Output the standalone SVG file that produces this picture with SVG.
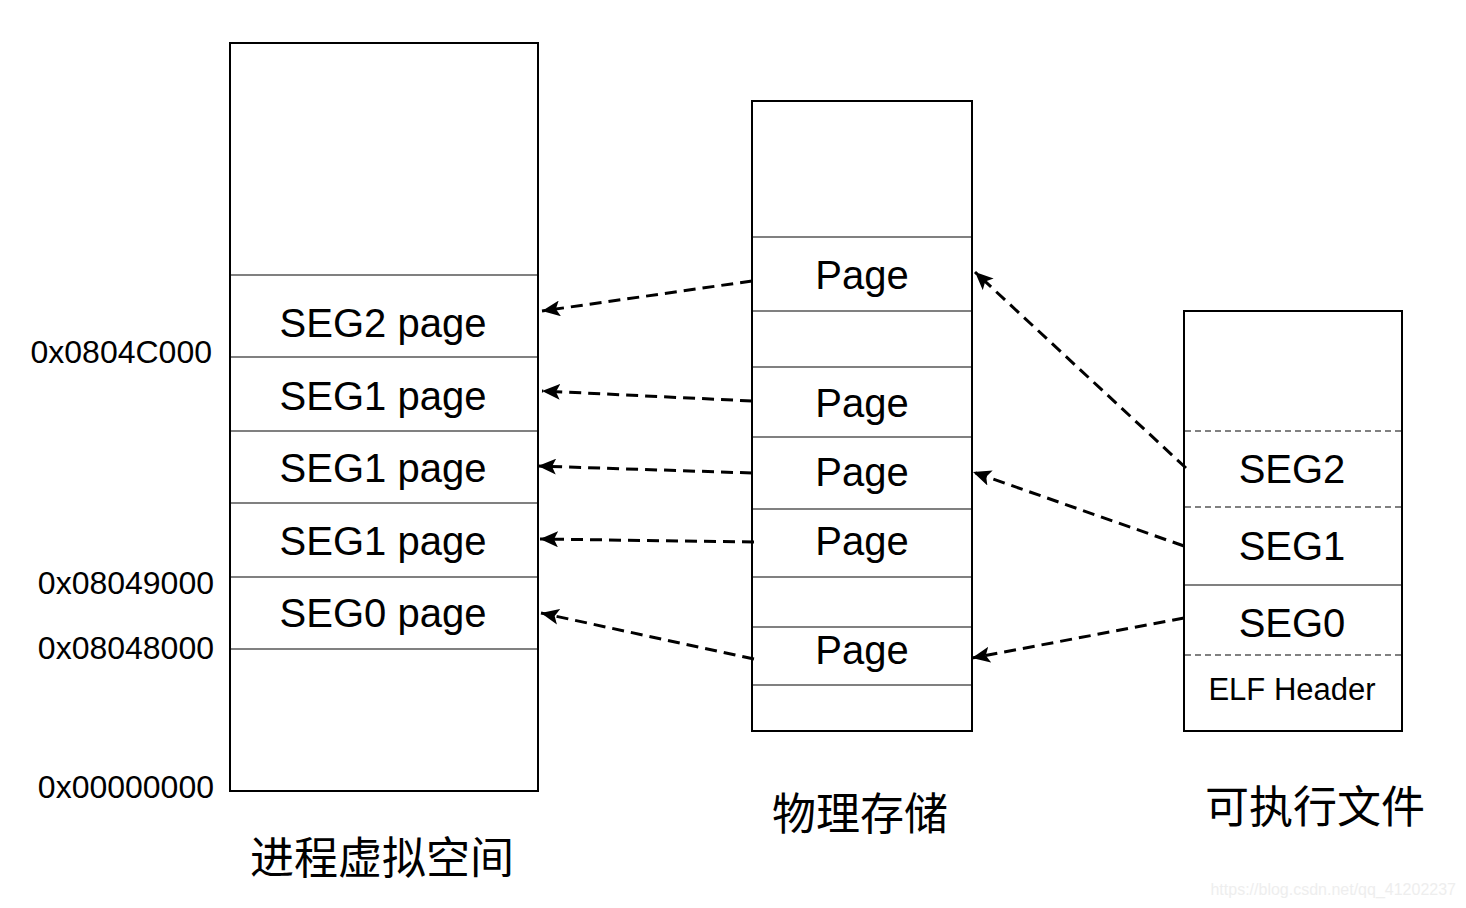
<svg xmlns="http://www.w3.org/2000/svg" width="1466" height="908" viewBox="0 0 1466 908">
<style>
.box{fill:#fff;stroke:#000;stroke-width:2}
.div{stroke:#808080;stroke-width:2}
.ddiv{stroke:#808080;stroke-width:2;stroke-dasharray:6 4}
.t{font-family:"Liberation Sans","Noto Sans CJK SC",sans-serif;fill:#000;text-anchor:middle}
.big{font-size:40px}
.hex{font-family:"Liberation Sans",sans-serif;font-size:32px;text-anchor:end;fill:#000}
.cn{font-family:"Noto Sans CJK SC",sans-serif;font-size:44px;text-anchor:middle;fill:#000}
.arr{stroke:#000;stroke-width:3;stroke-dasharray:12 7;fill:none;marker-end:url(#ah)}
</style>
<defs>
<marker id="ah" markerUnits="userSpaceOnUse" markerWidth="20" markerHeight="16" refX="18" refY="8" orient="auto">
<path d="M0,0 L18,8 L0,16 L4,8 Z" fill="#000"/>
</marker>
</defs>
<rect width="1466" height="908" fill="#fff"/>
<g id="virtual">
<rect class="box" x="230" y="43" width="308" height="748"/>
<line class="div" x1="231" y1="275" x2="537" y2="275"/>
<line class="div" x1="231" y1="357" x2="537" y2="357"/>
<line class="div" x1="231" y1="431" x2="537" y2="431"/>
<line class="div" x1="231" y1="503" x2="537" y2="503"/>
<line class="div" x1="231" y1="577" x2="537" y2="577"/>
<line class="div" x1="231" y1="649" x2="537" y2="649"/>
<text class="t big" x="383" y="337">SEG2 page</text>
<text class="t big" x="383" y="410">SEG1 page</text>
<text class="t big" x="383" y="482">SEG1 page</text>
<text class="t big" x="383" y="555">SEG1 page</text>
<text class="t big" x="383" y="627">SEG0 page</text>
<text class="hex" x="212" y="363">0x0804C000</text>
<text class="hex" x="214" y="594">0x08049000</text>
<text class="hex" x="214" y="659">0x08048000</text>
<text class="hex" x="214" y="798">0x00000000</text>
<text class="cn" x="382" y="874">进程虚拟空间</text>
</g>
<g id="physical">
<rect class="box" x="752" y="101" width="220" height="630"/>
<line class="div" x1="753" y1="237" x2="971" y2="237"/>
<line class="div" x1="753" y1="311" x2="971" y2="311"/>
<line class="div" x1="753" y1="367" x2="971" y2="367"/>
<line class="div" x1="753" y1="437" x2="971" y2="437"/>
<line class="div" x1="753" y1="509" x2="971" y2="509"/>
<line class="div" x1="753" y1="577" x2="971" y2="577"/>
<line class="div" x1="753" y1="627" x2="971" y2="627"/>
<line class="div" x1="753" y1="685" x2="971" y2="685"/>
<text class="t big" x="862" y="289">Page</text>
<text class="t big" x="862" y="417">Page</text>
<text class="t big" x="862" y="486">Page</text>
<text class="t big" x="862" y="555">Page</text>
<text class="t big" x="862" y="664">Page</text>
<text class="cn" x="860" y="830">物理存储</text>
</g>
<g id="executable">
<rect class="box" x="1184" y="311" width="218" height="420"/>
<line class="ddiv" x1="1185" y1="431" x2="1401" y2="431"/>
<line class="ddiv" x1="1185" y1="507" x2="1401" y2="507"/>
<line class="div" x1="1185" y1="585" x2="1401" y2="585"/>
<line class="ddiv" x1="1185" y1="655" x2="1401" y2="655"/>
<text class="t big" x="1292" y="483">SEG2</text>
<text class="t big" x="1292" y="560">SEG1</text>
<text class="t big" x="1292" y="637">SEG0</text>
<text class="t" x="1292" y="700" font-size="31">ELF Header</text>
<text class="cn" x="1315" y="823">可执行文件</text>
</g>
<g id="connectors">
<line class="arr" x1="752" y1="281" x2="542" y2="311"/>
<line class="arr" x1="752" y1="401" x2="542" y2="391"/>
<line class="arr" x1="752" y1="473" x2="538" y2="466"/>
<line class="arr" x1="754" y1="542" x2="540" y2="539"/>
<line class="arr" x1="754" y1="659" x2="541" y2="613"/>
<line class="arr" x1="1186" y1="468" x2="975" y2="272"/>
<line class="arr" x1="1184" y1="546" x2="973" y2="472"/>
<line class="arr" x1="1184" y1="618" x2="972" y2="658"/>
</g>
<text x="1456" y="895" font-family="Liberation Sans,sans-serif" font-size="16" fill="#eeeeee" text-anchor="end">https://blog.csdn.net/qq_41202237</text>
</svg>
